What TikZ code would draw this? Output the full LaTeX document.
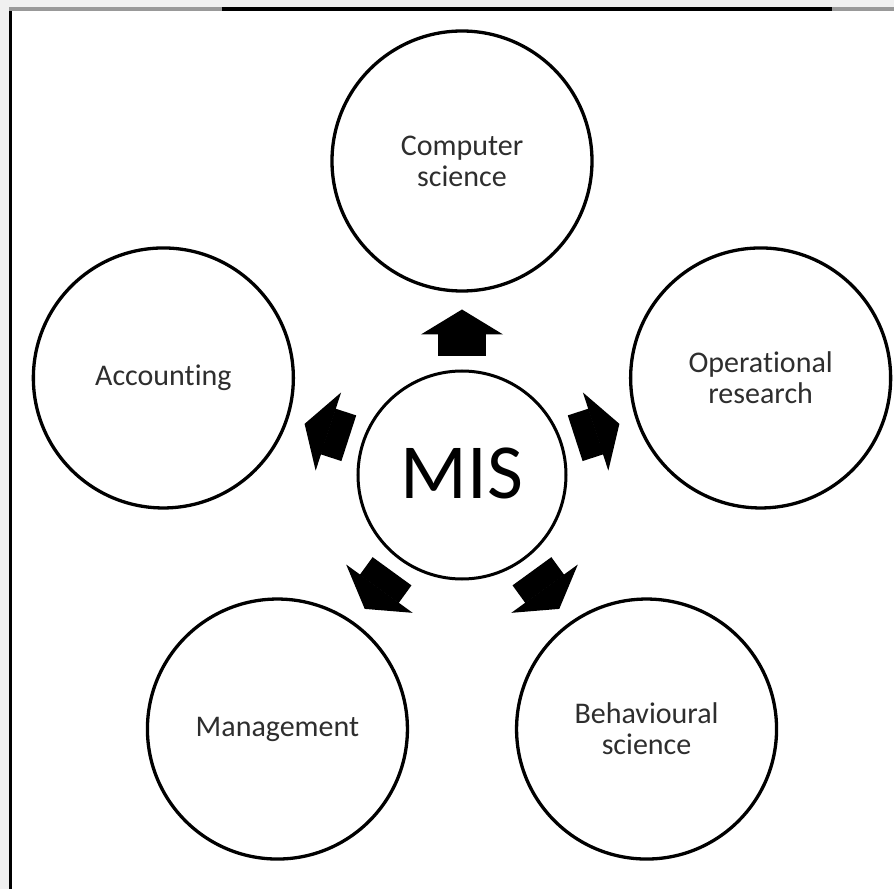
\documentclass[tikz,border=0pt]{standalone}
\usepackage{fontspec}
\setmainfont{Carlito}[Ligatures=NoCommon]
\usetikzlibrary{arrows.meta}

\begin{document}
\begin{tikzpicture}[x=1pt,y=1pt,
    field/.style={draw,circle,line width=3.3pt,minimum size=260pt,inner sep=0pt,outer sep=0pt,
      align=center,text=black!82,font=\fontsize{30}{31}\selectfont},
    push/.style={line width=48pt,-{Triangle[length=25pt,width=82pt,line width=1.5pt]},
      shorten <=15pt,shorten >=18.5pt}]
  \fill[black!6,use as bounding box] (-462,-414) rectangle (432,475);
  \fill[white] (-451,466) rectangle (432,-414);

  % frame
  \coordinate (frame top left) at (-451,466);
  \coordinate (frame bottom left) at (-451,-414);
  \draw[black,line width=3pt] (frame top left) -- (frame bottom left);
  \draw[black!40,line width=3.5pt] (-452.5,466) -- (-240,466);
  \draw[black,line width=3.5pt] (-240,466) -- (370,466);
  \draw[black!40,line width=3.5pt] (370,466) -- (432,466);

  \node[draw,circle,line width=3pt,minimum size=208pt,inner sep=0pt,outer sep=0pt,
    font=\fontsize{78}{78}\selectfont] (mis) at (0,0) {\raisebox{3pt}{MIS}};

  \node[field] (computer science) at (90:314) {Computer\\science};
  \node[field] (accounting) at (162:314) {Accounting};
  \node[field] (operational research) at (18:314) {Operational\\research};
  \node[field] (management) at (234:314) {Management};
  \node[field] (behavioural science) at (306:314) {Behavioural\\science};

  \draw[push] (mis) -- (computer science);
  \draw[push] (mis) -- (accounting);
  \draw[push] (mis) -- (operational research);
  \draw[push] (mis) -- (management);
  \draw[push] (mis) -- (behavioural science);
\end{tikzpicture}
\end{document}
